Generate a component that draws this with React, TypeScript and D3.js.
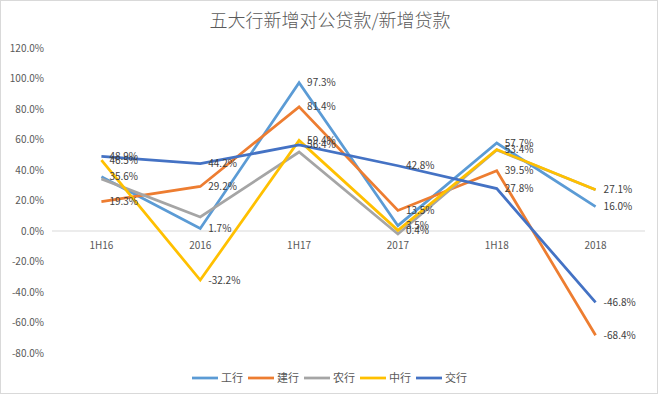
import React, { useEffect, useRef } from 'react';
import * as d3 from 'd3';

const categories = ['1H16', '2016', '1H17', '2017', '1H18', '2018'];
const yTicks = [120, 100, 80, 60, 40, 20, 0, -20, -40, -60, -80];

const seriesNames = ['工行', '建行', '农行', '中行', '交行'];
const colors = ['#5B9BD5', '#ED7D31', '#A5A5A5', '#FFC000', '#4472C4'];

const icbc = [35.6, 1.7, 97.3, 3.5, 57.7, 16.0];
const ccb = [19.3, 29.2, 81.4, 13.5, 39.5, -68.4];
const abc = [34.2, 9.2, 51.8, -2.0, 53.2, 27.0];
const boc = [46.5, -32.2, 59.4, 0.4, 53.4, 27.1];
const bocom = [48.9, 44.2, 56.4, 42.8, 27.8, -46.8];

// 农行 has no data labels in the original
const showLabels = [true, true, false, true, true];

const W = 660;
const H = 396;

export default function App() {
  const ref = useRef<SVGSVGElement>(null);

  useEffect(() => {
    const svg = d3.select(ref.current);
    svg.selectAll('*').remove();
    const font = '"Noto Sans CJK SC", "DejaVu Sans", sans-serif';
    const textColor = '#595959';

    svg.append('rect')
      .attr('x', 0.5).attr('y', 0.5)
      .attr('width', W - 3).attr('height', H - 3)
      .attr('fill', '#fff')
      .attr('stroke', '#d9d9d9');

    const x = d3.scalePoint<string>()
      .domain(categories)
      .range([52, 645])
      .padding(0.5);

    const y = d3.scaleLinear()
      .domain([-80, 120])
      .range([353, 48]);

    svg.append('text')
      .attr('x', 330).attr('y', 27)
      .attr('text-anchor', 'middle')
      .attr('font-family', font)
      .attr('font-size', 18)
      .attr('font-weight', 300)
      .attr('fill', textColor)
      .text('五大行新增对公贷款/新增贷款');

    svg.append('g')
      .selectAll('text')
      .data(yTicks)
      .enter().append('text')
      .attr('x', 44)
      .attr('y', d => y(d))
      .attr('dy', '0.35em')
      .attr('text-anchor', 'end')
      .attr('font-family', font)
      .attr('font-size', 10)
      .attr('fill', textColor)
      .text(d => d.toFixed(1) + '%');

    svg.append('line')
      .attr('x1', 52).attr('x2', 645)
      .attr('y1', y(0)).attr('y2', y(0))
      .attr('stroke', '#d9d9d9')
      .attr('stroke-width', 1);

    svg.append('g')
      .selectAll('text')
      .data(categories)
      .enter().append('text')
      .attr('x', d => x(d)!)
      .attr('y', y(0) + 14)
      .attr('dy', '0.35em')
      .attr('text-anchor', 'middle')
      .attr('font-family', font)
      .attr('font-size', 10)
      .attr('fill', textColor)
      .text(d => d);

    const series = [icbc, ccb, abc, boc, bocom];
    const line = d3.line<number>()
      .x((_, i) => x(categories[i])!)
      .y(d => y(d));

    series.forEach((vals, i) => {
      svg.append('path')
        .datum(vals)
        .attr('d', line)
        .attr('fill', 'none')
        .attr('stroke', colors[i])
        .attr('stroke-width', 2.75)
        .attr('stroke-linejoin', 'miter');
    });

    series.forEach((vals, i) => {
      if (!showLabels[i]) return;
      svg.append('g')
        .selectAll('text')
        .data(vals)
        .enter().append('text')
        .attr('x', (_, j) => x(categories[j])! + 8)
        .attr('y', d => y(d))
        .attr('dy', '0.35em')
        .attr('font-family', font)
        .attr('font-size', 10)
        .attr('fill', '#404040')
        .text(d => d.toFixed(1) + '%');
    });

    // legend
    const legendX = [192, 248, 304, 360, 416];
    const lg = svg.append('g');
    seriesNames.forEach((name, i) => {
      lg.append('line')
        .attr('x1', legendX[i]).attr('x2', legendX[i] + 26)
        .attr('y1', 378).attr('y2', 378)
        .attr('stroke', colors[i])
        .attr('stroke-width', 2.75);
      lg.append('text')
        .attr('x', legendX[i] + 29)
        .attr('y', 378)
        .attr('dy', '0.35em')
        .attr('font-family', font)
        .attr('font-size', 11)
        .attr('fill', textColor)
        .text(name);
    });
  }, []);

  return (
    <svg
      ref={ref}
      width={W}
      height={H}
      style={{ position: 'absolute', left: 0, top: 0, background: '#fff' }}
    />
  );
}
